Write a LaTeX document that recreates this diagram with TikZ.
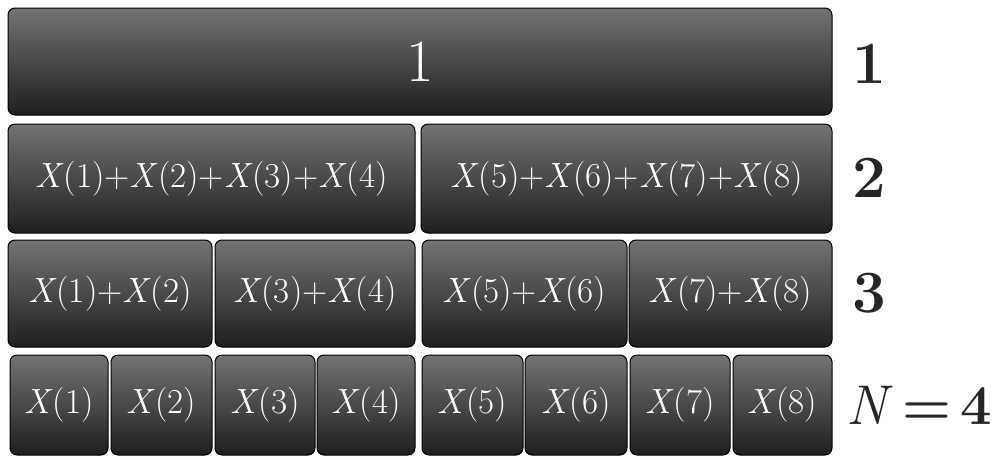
\documentclass[tikz,border=0pt]{standalone}
\usepackage{fontspec}
\begin{document}
\begin{tikzpicture}[x=1pt,y=-1pt,
  box/.style={rounded corners=7pt, draw=black, line width=1pt,
    top color=black!55, bottom color=black!88, text=white,
    inner sep=0pt, font=\fontsize{35}{37}\selectfont},
  lab/.style={anchor=west, inner sep=0pt, text=black!85,
    font=\fontsize{60}{62}\selectfont\bfseries}]
\useasboundingbox[fill=white] (0,0) rectangle (998,461);
% row 1
\node[box, minimum width=824pt, minimum height=107pt, font=\fontsize{60}{62}\selectfont] (r1) at (420,61.5) {1};
% row 2
\node[box, minimum width=407pt, minimum height=109pt] (r2a) at (211.5,178.5) {\textit{X}(1)+\textit{X}(2)+\textit{X}(3)+\textit{X}(4)};
\node[box, minimum width=411pt, minimum height=109pt] (r2b) at (626.5,178.5) {\textit{X}(5)+\textit{X}(6)+\textit{X}(7)+\textit{X}(8)};
% row 3
\node[box, minimum width=204pt, minimum height=107pt] (r3a) at (110,293.5) {\textit{X}(1)+\textit{X}(2)};
\node[box, minimum width=200pt, minimum height=107pt] (r3b) at (315,293.5) {\textit{X}(3)+\textit{X}(4)};
\node[box, minimum width=205pt, minimum height=107pt] (r3c) at (524.5,293.5) {\textit{X}(5)+\textit{X}(6)};
\node[box, minimum width=203pt, minimum height=107pt] (r3d) at (730.5,293.5) {\textit{X}(7)+\textit{X}(8)};
% row 4
\node[box, minimum width=98pt, minimum height=100pt] (r4a) at (59,405) {\textit{X}(1)};
\node[box, minimum width=101pt, minimum height=100pt] (r4b) at (161.5,405) {\textit{X}(2)};
\node[box, minimum width=100pt, minimum height=100pt] (r4c) at (265,405) {\textit{X}(3)};
\node[box, minimum width=98pt, minimum height=100pt] (r4d) at (366,405) {\textit{X}(4)};
\node[box, minimum width=101pt, minimum height=100pt] (r4e) at (472.5,405) {\textit{X}(5)};
\node[box, minimum width=102pt, minimum height=100pt] (r4f) at (576,405) {\textit{X}(6)};
\node[box, minimum width=100pt, minimum height=100pt] (r4g) at (680,405) {\textit{X}(7)};
\node[box, minimum width=99pt, minimum height=100pt] (r4h) at (782.5,405) {\textit{X}(8)};
% level labels
\node[lab] (l1) at (852,64) {1};
\node[lab] (l2) at (852,178) {2};
\node[lab] (l3) at (852,293) {3};
\node[lab, font=\fontsize{56}{58}\selectfont\bfseries] (l4) at (846,405) {\textit{\mdseries N}\,=\,4};
\end{tikzpicture}
\end{document}
